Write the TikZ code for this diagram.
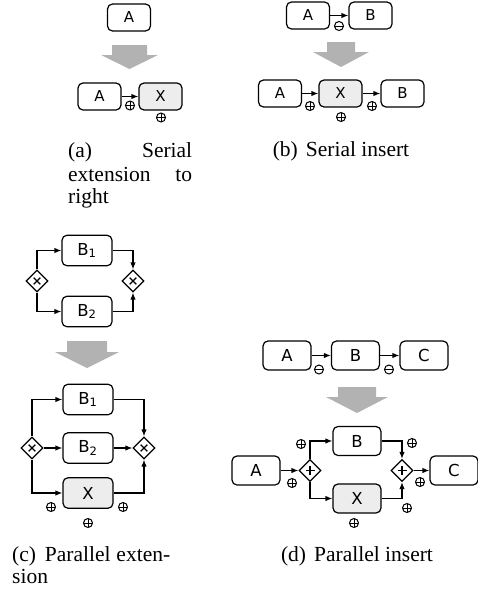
\documentclass[tikz,border=0pt]{standalone}
\usepackage{fontspec}
\setmainfont{Liberation Serif}
\newfontfamily\boxfont{DejaVu Sans}
\usetikzlibrary{arrows.meta,shapes.geometric}
\tikzset{
  task/.style={draw, line width=1.2pt, rounded corners=5pt, inner sep=0pt, font=\boxfont\fontsize{15}{15}\selectfont},
  taskab/.style={task, minimum width=43pt, minimum height=27pt},
  taskc/.style={task, minimum width=50pt, minimum height=30.5pt, font=\boxfont\fontsize{16.5}{16.5}\selectfont},
  taskd/.style={task, minimum width=48pt, minimum height=29pt, font=\boxfont\fontsize{16.5}{16.5}\selectfont},
  newtask/.style={fill=black!7},
  gw/.style={draw, line width=1.2pt, diamond, inner sep=0pt, minimum width=22pt, minimum height=22pt, fill=white},
  gwx/.style={gw, path picture={
      \draw[line width=1.4pt] ([shift={(-3.3pt,-3.3pt)}]path picture bounding box.center) -- ([shift={(3.3pt,3.3pt)}]path picture bounding box.center)
                             ([shift={(-3.3pt,3.3pt)}]path picture bounding box.center) -- ([shift={(3.3pt,-3.3pt)}]path picture bounding box.center);}},
  gwp/.style={gw, path picture={
      \draw[line width=1.4pt] ([shift={(-4.5pt,0pt)}]path picture bounding box.center) -- ([shift={(4.5pt,0pt)}]path picture bounding box.center)
                             ([shift={(0pt,-4.5pt)}]path picture bounding box.center) -- ([shift={(0pt,4.5pt)}]path picture bounding box.center);}},
  flow/.style={line width=1.2pt, -{Latex[length=7pt,width=5.5pt]}},
  pmbase/.style={circle, draw, line width=1pt, minimum size=9pt, inner sep=0pt},
  pmplus/.style={pmbase, path picture={
      \draw[line width=1pt] (path picture bounding box.north) -- (path picture bounding box.south)
                           (path picture bounding box.west) -- (path picture bounding box.east);}},
  pmminus/.style={pmbase, path picture={
      \draw[line width=1pt] (path picture bounding box.west) -- (path picture bounding box.east);}},
  bigarrow/.style={fill=black!30, draw=none},
  captxt/.style={inner sep=0pt, font=\fontsize{21.5}{21.5}\selectfont},
}
\begin{document}
\begin{tikzpicture}[x=1pt,y=-1pt]
\useasboundingbox (0,0) rectangle (477,592);
% ---------- (a) ----------
\node[taskab] (aA0) at (129,17.5) {A};
\fill[bigarrow] (112,45) -- (147,45) -- (147,55) -- (158,55) -- (129.5,69) -- (101,55) -- (112,55) -- cycle;
\node[taskab] (aA) at (99.5,96.5) {A};
\node[taskab,newtask] (aX) at (160.5,96.5) {X};
\draw[flow] (aA.east) -- (aX.west);
\node[pmplus] (am1) at (130,105.5) {};
\node[pmplus] (am2) at (161,117.5) {};
\node[captxt,anchor=base west] (capa1) at (68,157) {\makebox[124pt][s]{(a) Serial}};
\node[captxt,anchor=base west] (capa2) at (68,181) {\makebox[124pt][s]{extension to}};
\node[captxt,anchor=base west] (capa3) at (68,203.5) {right};
% ---------- (b) ----------
\node[taskab] (bA0) at (308,15.5) {A};
\node[taskab] (bB0) at (370.5,15.5) {B};
\draw[flow] (bA0.east) -- (bB0.west);
\node[pmminus] (bm0) at (339,26) {};
\fill[bigarrow] (327,42) -- (355,42) -- (355,52) -- (369,52) -- (341,67) -- (313,52) -- (327,52) -- cycle;
\node[taskab] (bA) at (280,93.5) {A};
\node[taskab,newtask] (bX) at (340.5,93.5) {X};
\node[taskab] (bB) at (402.5,93.5) {B};
\draw[flow] (bA.east) -- (bX.west);
\draw[flow] (bX.east) -- (bB.west);
\node[pmplus] (bm1) at (310,106) {};
\node[pmplus] (bm2) at (372,106) {};
\node[pmplus] (bm3) at (341,117) {};
\node[captxt,anchor=base] (capb) at (341,156.5) {(b)\hspace{8pt}Serial insert};
% ---------- (c) ----------
\node[taskc] (cB1) at (87,250.5) {B\textsubscript{1}};
\node[taskc] (cB2) at (87,311.5) {B\textsubscript{2}};
\node[gwx] (cL) at (37,281) {};
\node[gwx] (cR) at (133,281) {};
\draw[flow] (cL.north) |- (cB1.west);
\draw[flow] (cL.south) |- (cB2.west);
\draw[flow] (cB1.east) -| (cR.north);
\draw[flow] (cB2.east) -| (cR.south);
\fill[bigarrow] (67,341) -- (107,341) -- (107,352) -- (119,352) -- (87,368) -- (55,352) -- (67,352) -- cycle;
\node[taskc] (cB1b) at (88,399.5) {B\textsubscript{1}};
\node[taskc] (cB2b) at (88,448) {B\textsubscript{2}};
\node[taskc,newtask] (cXb) at (88,493) {X};
\node[gwx] (cL2) at (32,448) {};
\node[gwx] (cR2) at (144,448) {};
\draw[flow] (cL2.north) |- (cB1b.west);
\draw[flow] (cL2.east) -- (cB2b.west);
\draw[flow] (cL2.south) |- (cXb.west);
\draw[flow] (cB1b.east) -| (cR2.north);
\draw[flow] (cB2b.east) -- (cR2.west);
\draw[flow] (cXb.east) -| (cR2.south);
\node[pmplus] (cm1) at (51,507) {};
\node[pmplus] (cm2) at (123,507) {};
\node[pmplus] (cm3) at (88,523) {};
\node[captxt,anchor=base west] (capc1) at (12,561) {\makebox[158pt][s]{(c)\hspace{3pt} Parallel exten-}};
\node[captxt,anchor=base west] (capc2) at (12,583.5) {sion};
% ---------- (d) ----------
\node[taskd] (dA0) at (287,355.5) {A};
\node[taskd] (dB0) at (355.5,355.5) {B};
\node[taskd] (dC0) at (424,355.5) {C};
\draw[flow] (dA0.east) -- (dB0.west);
\draw[flow] (dB0.east) -- (dC0.west);
\node[pmminus] (dm01) at (319,369.5) {};
\node[pmminus] (dm02) at (389,369.5) {};
\fill[bigarrow] (338,387) -- (376,387) -- (376,397) -- (388,397) -- (357,413) -- (326,397) -- (338,397) -- cycle;
\node[taskd] (dA) at (256,470.5) {A};
\node[taskd] (dB) at (357,441) {B};
\node[taskd,newtask] (dX) at (357,498.5) {X};
\node[taskd] (dC) at (454,470.5) {C};
\node[gwp] (dL) at (310,470.5) {};
\node[gwp] (dR) at (402,470.5) {};
\draw[flow] (dA.east) -- (dL.west);
\draw[flow] (dL.north) |- (dB.west);
\draw[flow] (dL.south) |- (dX.west);
\draw[flow] (dB.east) -| (dR.north);
\draw[flow] (dX.east) -| (dR.south);
\draw[flow] (dR.east) -- (dC.west);
\node[pmplus] (dm1) at (301,444) {};
\node[pmplus] (dm2) at (292,483) {};
\node[pmplus] (dm3) at (412,443) {};
\node[pmplus] (dm4) at (420,482) {};
\node[pmplus] (dm5) at (407,508) {};
\node[pmplus] (dm6) at (354,523) {};
\node[captxt,anchor=base] (capd) at (357,561) {(d)\hspace{8pt}Parallel insert};
\end{tikzpicture}
\end{document}
